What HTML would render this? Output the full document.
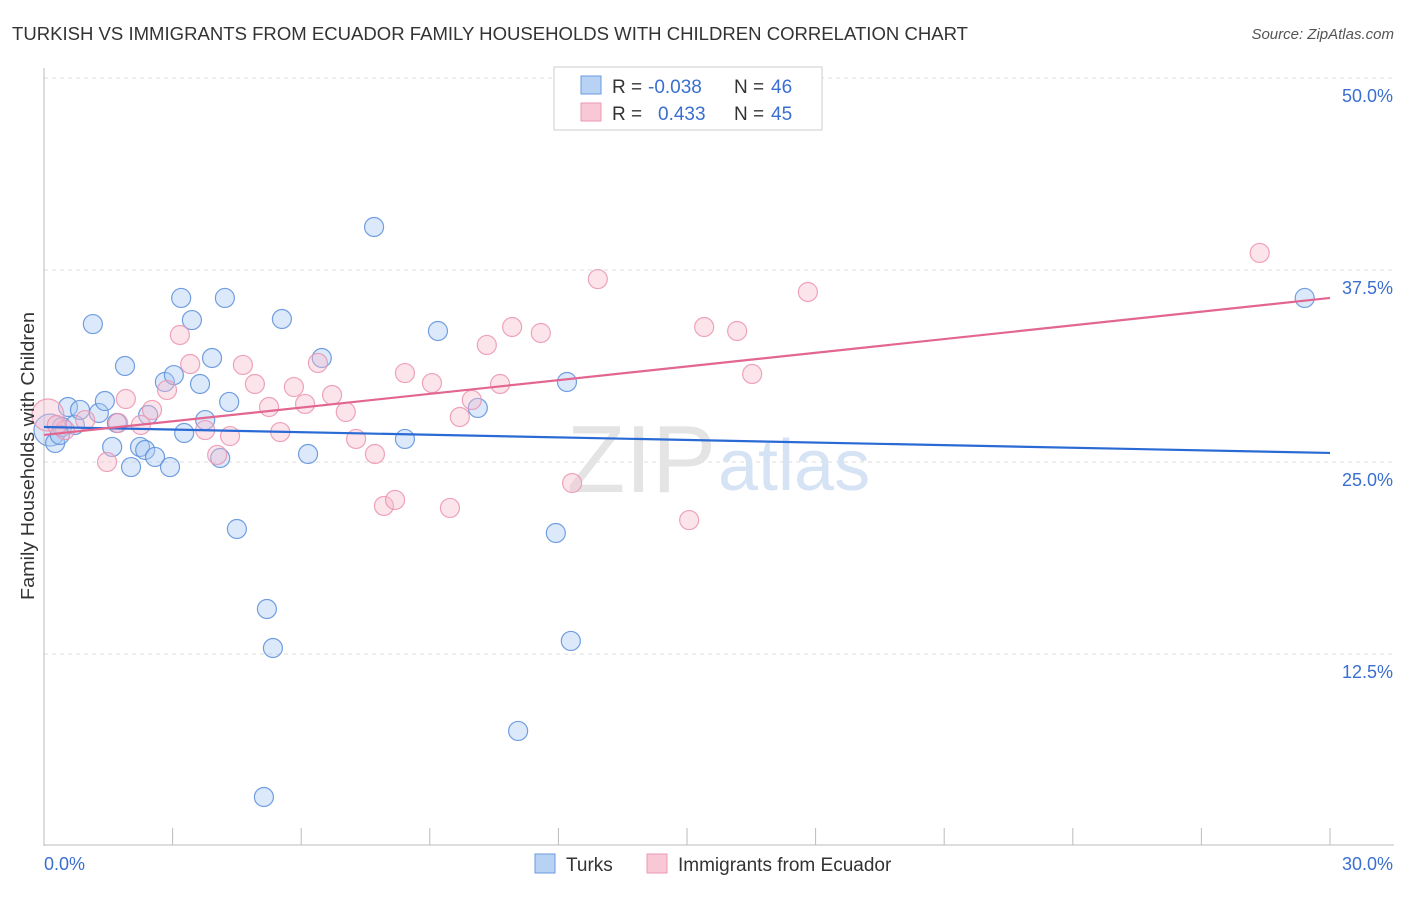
<!DOCTYPE html>
<html><head><meta charset="utf-8"><style>
body{margin:0;background:#fff;font-family:"Liberation Sans",sans-serif}
svg text{font-family:"Liberation Sans",sans-serif}
</style></head><body>
<svg id="chart" width="1406" height="892" viewBox="0 0 1406 892" xmlns="http://www.w3.org/2000/svg">
<text x="12" y="40" font-size="18" fill="#333" textLength="956" lengthAdjust="spacingAndGlyphs">TURKISH VS IMMIGRANTS FROM ECUADOR FAMILY HOUSEHOLDS WITH CHILDREN CORRELATION CHART</text>
<text x="1394" y="39" font-size="15" fill="#555" text-anchor="end" font-style="italic">Source: ZipAtlas.com</text>
<g id="grid"></g>
<text x="716" y="492" font-size="96" fill="#e4e4e4" text-anchor="end" font-family="Liberation Serif">ZIP</text>
<text x="718" y="490" font-size="72" fill="#d6e3f4">atlas</text>
<g id="marks"></g>
<text transform="translate(34,456) rotate(-90)" font-size="18" fill="#333" text-anchor="middle" textLength="288" lengthAdjust="spacingAndGlyphs">Family Households with Children</text>
<g>
<rect x="554" y="67" width="268" height="63" fill="#fff" stroke="#ccc"/>
<rect x="581" y="76" width="20" height="18" fill="#b8d2f4" stroke="#6a9ae0"/>
<rect x="581" y="103" width="20" height="18" fill="#f9c8d6" stroke="#ec99b4"/>
<text x="612" y="93" font-size="19" fill="#333">R =</text>
<text x="648" y="93" font-size="19" fill="#3a6fd0">-0.038</text>
<text x="734" y="93" font-size="19" fill="#333">N =</text>
<text x="771" y="93" font-size="19" fill="#3a6fd0">46</text>
<text x="612" y="120" font-size="19" fill="#333">R =</text>
<text x="658" y="120" font-size="19" fill="#3a6fd0">0.433</text>
<text x="734" y="120" font-size="19" fill="#333">N =</text>
<text x="771" y="120" font-size="19" fill="#3a6fd0">45</text>
</g>
<g>
<rect x="535" y="854" width="20" height="19" fill="#b8d2f4" stroke="#6a9ae0"/>
<text x="566" y="871" font-size="19" fill="#333">Turks</text>
<rect x="647" y="854" width="20" height="19" fill="#f9c8d6" stroke="#ec99b4"/>
<text x="678" y="871" font-size="19" fill="#333">Immigrants from Ecuador</text>
</g>
</svg>
<script>
const xTicks=[0,3,6,9,12,15,18,21,24,27,30];
const yTicks=[12.5,25,37.5,50];
const yTickLabels=["12.5%","25.0%","37.5%","50.0%"];
const xLabels=["0.0%","30.0%"];
const turksX=[0.14,0.26,0.42,0.56,0.72,0.84,1.14,1.28,1.42,1.59,1.70,1.89,2.03,2.24,2.36,2.43,2.59,2.82,2.94,3.03,3.20,3.27,3.45,3.64,3.92,3.76,4.11,4.22,4.32,4.50,5.20,5.34,5.13,5.55,6.16,6.48,7.70,8.42,9.19,10.12,11.06,11.94,12.20,12.29,29.41,0.37];
const turksY=[27.08,26.24,27.28,28.58,27.41,28.39,33.98,28.19,28.97,25.98,27.54,31.25,24.67,25.98,25.78,28.06,25.33,30.21,24.67,30.66,35.68,26.89,34.24,30.08,31.77,27.73,25.26,35.68,28.91,20.64,15.43,12.89,3.19,34.31,25.52,31.77,40.30,26.50,33.53,28.52,7.49,20.38,30.21,13.35,35.68,26.76];
const ecuX=[0.09,0.49,0.96,1.47,1.73,1.91,2.26,2.52,2.87,3.17,3.41,3.76,4.04,4.34,4.64,4.92,5.25,5.51,5.83,6.09,6.39,6.72,7.04,7.28,7.72,7.93,8.19,8.42,9.05,9.47,9.70,9.98,10.33,10.64,10.92,11.59,12.32,12.92,15.05,15.40,16.17,16.52,17.82,28.36,0.30];
const ecuY=[28.06,27.08,27.73,25.00,27.54,29.10,27.41,28.39,29.69,33.27,31.38,27.08,25.46,26.69,31.32,30.08,28.58,26.95,29.88,28.78,31.45,29.36,28.26,26.50,25.52,22.14,22.53,30.79,30.14,22.01,27.93,29.04,32.62,30.08,33.79,33.40,23.63,36.91,21.22,33.79,33.53,30.73,36.07,38.61,27.41];
const turksTrend=[27.28,25.59];
const ecuTrend=[26.76,35.68];
const NS="http://www.w3.org/2000/svg";
const sx=v=>44+v*(1286/30);
const sy=v=>846-v*15.36;
function mk(tag,attrs,parent){const e=document.createElementNS(NS,tag);for(const k in attrs)e.setAttribute(k,attrs[k]);parent.appendChild(e);return e;}
const grid=document.getElementById('grid'),marks=document.getElementById('marks');
yTicks.forEach((t,i)=>{
 const l=mk('line',{x1:44,x2:1394,y1:sy(t),y2:sy(t),stroke:'#ddd','stroke-dasharray':'4,4'},grid);
 
 
 const tx=mk('text',{x:1393,y:sy(t)+24,'font-size':18,fill:'#3a6fd0','text-anchor':'end'},grid);
 tx.textContent=yTickLabels[i];
 
 
});
const ya=mk('line',{x1:44,x2:44,y1:68,y2:846,stroke:'#bbb'},grid);


const xa=mk('line',{x1:44,x2:1394,y1:845,y2:845,stroke:'#bbb'},grid);


xTicks.forEach(t=>{
 const l=mk('line',{x1:sx(t),x2:sx(t),y1:828,y2:845,stroke:'#bbb'},grid);
 
 
});
const xl0=mk('text',{x:44,y:870,'font-size':18,fill:'#3a6fd0'},grid);xl0.textContent=xLabels[0];


const xl1=mk('text',{x:1393,y:870,'font-size':18,fill:'#3a6fd0','text-anchor':'end'},grid);xl1.textContent=xLabels[1];


function pts(X,Y,fill,stroke,name){X.forEach((x,i)=>{
 const c=mk('circle',{cx:sx(x),cy:sy(Y[i]),r:i===0?16:9.5,fill:fill,'fill-opacity':0.4,stroke:stroke,'stroke-opacity':0.85,'stroke-width':1.2},marks);
 
 
});}
pts(turksX,turksY,'#a8c8f2','#5a8edb','turks-point');
pts(ecuX,ecuY,'#f8bccd','#eb93b0','ecuador-point');
const t1=mk('line',{x1:sx(0),y1:sy(turksTrend[0]),x2:sx(30),y2:sy(turksTrend[1]),stroke:'#2a6ad4','stroke-width':2.2},marks);


const t2=mk('line',{x1:sx(0),y1:sy(ecuTrend[0]),x2:sx(30),y2:sy(ecuTrend[1]),stroke:'#e26690','stroke-width':2.2},marks);


</script>
</body></html>
